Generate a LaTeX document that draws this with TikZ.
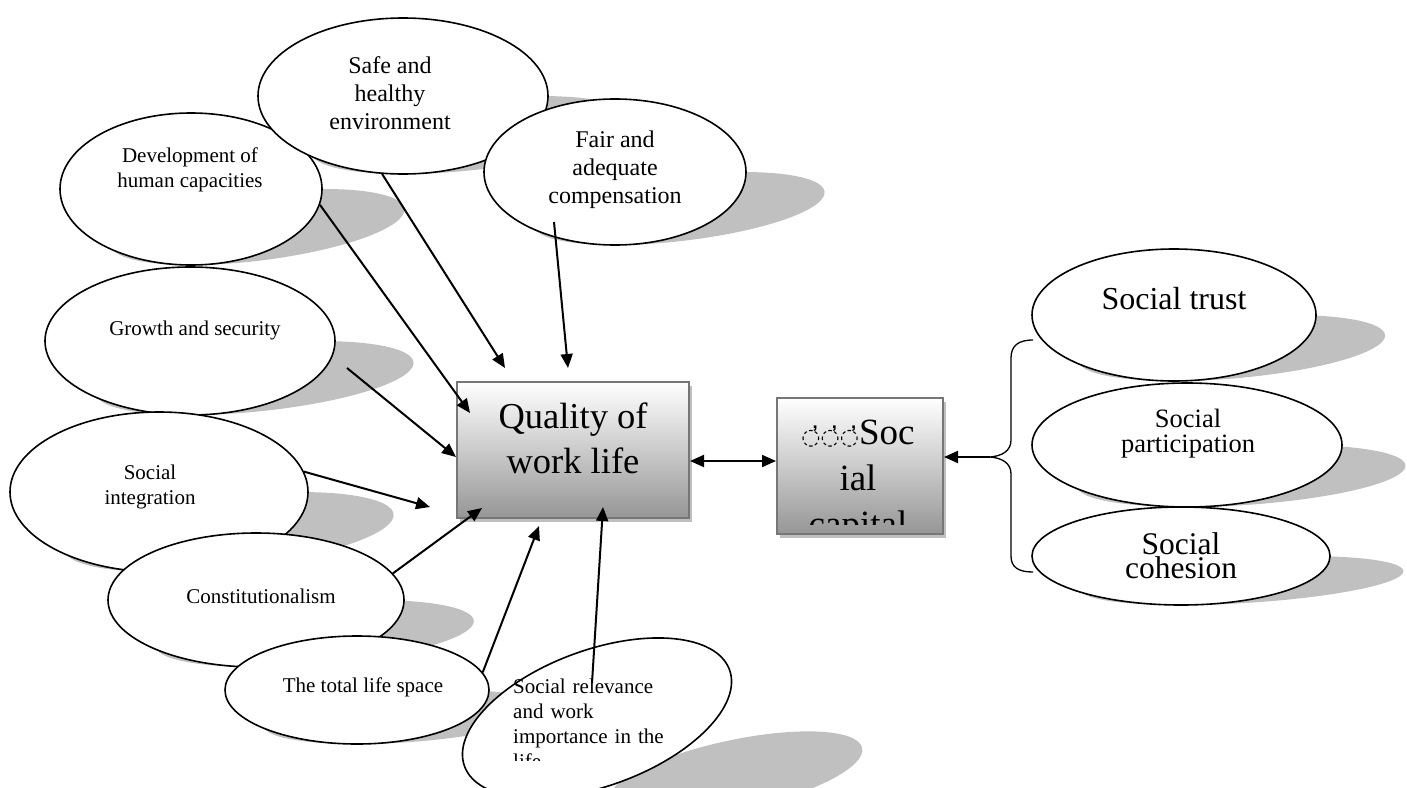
\documentclass[tikz,border=0pt]{standalone}
\usepackage{fontspec}
\setmainfont{Liberation Serif}
\newfontfamily\markfont{DejaVu Sans}
\usetikzlibrary{arrows.meta, shapes.geometric, shadows}
\definecolor{shadowgray}{RGB}{192,192,192}
\definecolor{boxedge}{RGB}{118,118,118}
\definecolor{boxshade}{RGB}{150,150,150}

% perspective shadow of an oval, anchored at its bottom point
\newcommand{\ovshadow}[5][1.75]{%
  \fill[shadowgray, shift={(#2,#3)}, xslant=#1, yscale=0.5]
    (0,-#5) ellipse [x radius=#4pt, y radius=#5pt];}

\begin{document}
\begin{tikzpicture}[
    x=1pt, y=-1pt,
    oval/.style={ellipse, draw=black, line width=1.6pt, fill=white, inner sep=0pt},
    smalltxt/.style={font=\fontsize{21}{25}\selectfont, align=center, inner sep=0pt},
    midtxt/.style={font=\fontsize{24}{28}\selectfont, align=center, inner sep=0pt},
    bigbox/.style={rectangle, draw=boxedge, line width=2pt,
        top color=white, bottom color=boxshade, inner sep=0pt,
        drop shadow={shadow xshift=3pt, shadow yshift=-4pt, fill=black!25, opacity=1}},
    arrow/.style={-{Triangle[length=14pt, width=12pt]}, line width=2pt}
]
\useasboundingbox (0,0) rectangle (1407,787);

% ovals on the left
\ovshadow{191}{265}{131}{76}
\node[oval, minimum width=262pt, minimum height=152pt] (dev) at (191,189) {};
\node[smalltxt] (devtext) at (190,170) {Development of\\human capacities};

\ovshadow{403}{174}{145}{78}
\node[oval, minimum width=290pt, minimum height=156pt] (safe) at (403,96) {};
\node[midtxt] (safetext) at (390,93) {Safe and\\healthy\\environment};

\ovshadow{615}{245}{131}{73}
\node[oval, minimum width=262pt, minimum height=146pt] (fair) at (615,172) {};
\node[midtxt] (fairtext) at (615,170) {Fair and\\adequate\\compensation};

\ovshadow{190}{415}{145}{74}
\node[oval, minimum width=290pt, minimum height=148pt] (grow) at (190,341) {};
\node[smalltxt] (growtext) at (195,330) {Growth and security};

\ovshadow{159}{572}{149}{80}
\node[oval, minimum width=298pt, minimum height=160pt] (integ) at (159,492) {};
\node[smalltxt] (integtext) at (150,487) {Social\\integration};

\ovshadow{256}{667}{148}{67}
\node[oval, minimum width=296pt, minimum height=134pt] (const) at (256,600) {};
\node[smalltxt] (consttext) at (261,596) {Constitutionalism};

\ovshadow{357}{744}{132}{54}
\node[oval, minimum width=264pt, minimum height=108pt] (life) at (357,690) {};
\node[smalltxt] (lifetext) at (363,687) {The total life space};

\fill[shadowgray, rotate around={12:(735,775)}] (735,775) ellipse [x radius=130pt, y radius=35pt];
\node[oval, rotate=20, minimum width=282pt, minimum height=136pt] (relev) at (597,718) {};
\begin{scope}
  \clip (500,660) rectangle (760,760);
  \node[smalltxt, align=left, text width=230pt, anchor=north west] (relevtext) at (513,679)
    {Social relevance\\and work\\importance in the\\life};
\end{scope}

% the two boxes
\node[bigbox, minimum width=232pt, minimum height=136pt] (qwl) at (573,450) {};
\node[font=\fontsize{36.5}{45}\selectfont, align=center, inner sep=0pt] (qwltext) at (573,438) {Quality of\\work life};

\node[bigbox, minimum width=166pt, minimum height=136pt] (scap) at (860,466) {};
\begin{scope}
  \clip (780,400) rectangle (940,524);
  \node[font=\fontsize{37}{46}\selectfont, align=center, inner sep=0pt] (scaptext) at (858,482)
    {{\markfont\fontsize{22}{22}\selectfont ◌̓◌̓◌̓}Soc\\ial\\capital};
\end{scope}

% ovals on the right
\ovshadow{1174}{381}{142}{66}
\node[oval, minimum width=284pt, minimum height=132pt] (trust) at (1174,315) {};
\node[font=\fontsize{32}{36}\selectfont, inner sep=0pt] (trusttext) at (1174,299) {Social trust};

\ovshadow{1187}{507}{155}{62}
\node[oval, minimum width=310pt, minimum height=124pt] (partic) at (1187,445) {};
\node[font=\fontsize{26.5}{25}\selectfont, align=center, inner sep=0pt] (partictext) at (1188,434) {Social\\participation};

\ovshadow[2.5]{1181}{605}{149}{49}
\node[oval, minimum width=298pt, minimum height=98pt] (cohes) at (1181,556) {};
\node[font=\fontsize{31.5}{24}\selectfont, align=center, inner sep=0pt] (cohestext) at (1181,556) {Social\\cohesion};

% brace
\coordinate (bracetop) at (1033,340);
\coordinate (bracebot) at (1033,572);
\coordinate (bracetip) at (990,457);
\draw[line width=1.3pt] (bracetop) .. controls (1018,340) and (1011,346) .. (1011,358)
  -- (1011,440) .. controls (1011,451) and (1002,456) .. (bracetip)
  .. controls (1002,458) and (1011,463) .. (1011,474)
  -- (1011,556) .. controls (1011,567) and (1018,572) .. (bracebot);

% arrows
\coordinate (tipdev) at (470,413);
\coordinate (tipsafe) at (505,368);
\coordinate (fairstart) at (554,222);
\coordinate (tipfair) at (568,368);
\coordinate (growstart) at (347,368);
\coordinate (tipgrow) at (456,457);
\coordinate (tipinteg) at (430,507);
\coordinate (tipconst) at (482,508);
\coordinate (tiplife) at (539,526);
\coordinate (relevstart) at (592,683);
\coordinate (tiprelev) at (603,507);

\draw[arrow] (dev.-7) -- (tipdev);
\draw[arrow] (safe.-105) -- (tipsafe);
\draw[arrow] (fairstart) -- (tipfair);
\draw[arrow] (growstart) -- (tipgrow);
\draw[arrow] (integ.8) -- (tipinteg);
\draw[arrow] (const.11) -- (tipconst);
\draw[arrow] (life.8) -- (tiplife);
\draw[arrow] (relevstart) -- (tiprelev);

\draw[{Triangle[length=14pt, width=12pt]}-{Triangle[length=14pt, width=12pt]}, line width=2pt]
  ([yshift=-11pt]qwl.east) -- ([yshift=5pt]scap.west);
\draw[arrow] (bracetip) -- (bracetip -| scap.east);

\end{tikzpicture}
\end{document}
